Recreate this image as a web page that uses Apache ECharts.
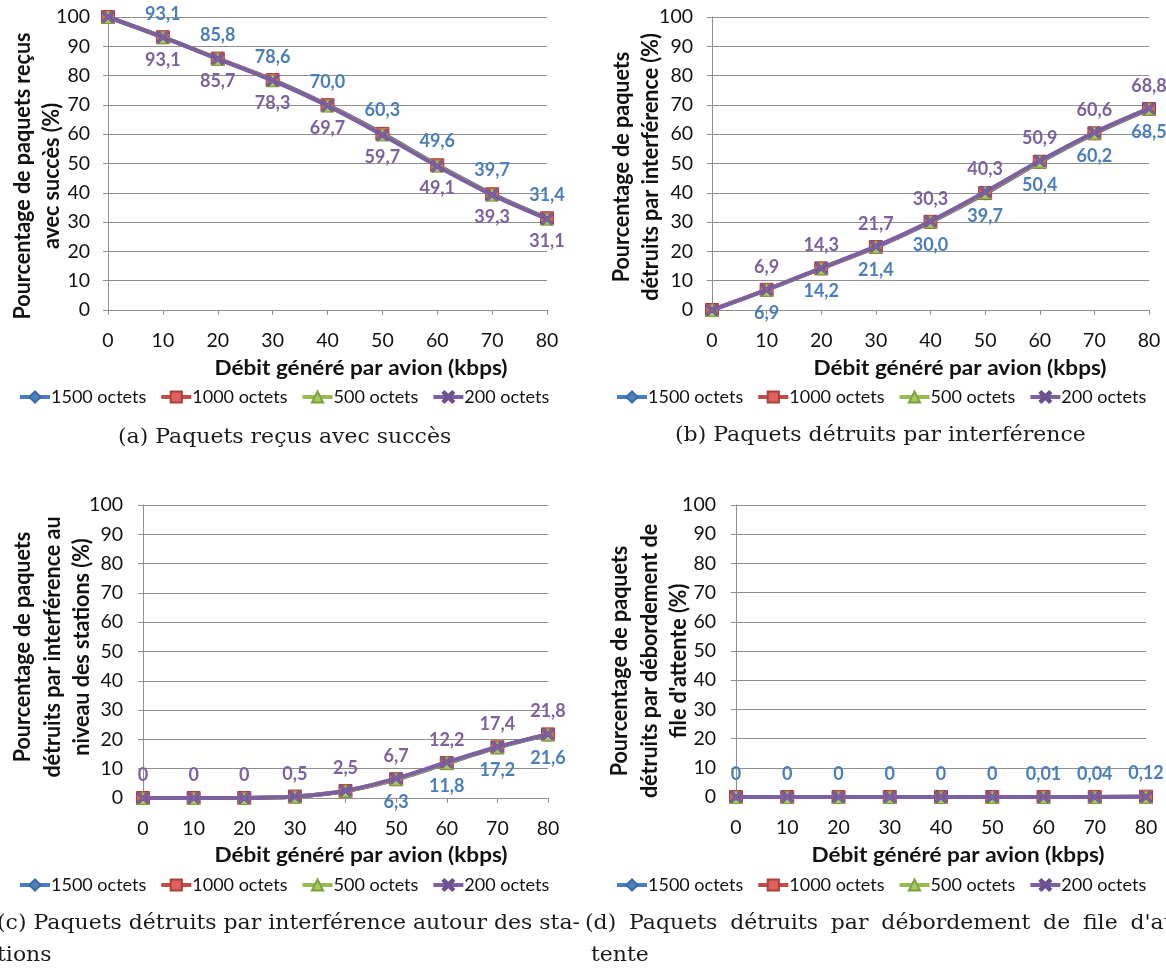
<!DOCTYPE html>
<html>
<head>
<meta charset="utf-8">
<script src="https://cdn.jsdelivr.net/npm/echarts@6/dist/echarts.min.js"></script>
<style>
html,body{margin:0;padding:0;background:#fff;}
#chart{width:1166px;height:969px;}
</style>
</head>
<body>
<div id="chart"></div>
<script>
// ---------- DATA ----------
const xValues = [0, 10, 20, 30, 40, 50, 60, 70, 80];
const seriesNames = ['1500 octets', '1000 octets', '500 octets', '200 octets'];

// (a) Paquets reçus avec succès (%)
const recus1500 = [100, 93.1, 85.8, 78.6, 70.0, 60.3, 49.6, 39.7, 31.4];
const recus1000 = [100, 93.1, 85.8, 78.5, 69.9, 60.1, 49.4, 39.5, 31.3];
const recus500  = [100, 93.1, 85.7, 78.4, 69.8, 59.9, 49.3, 39.4, 31.2];
const recus200  = [100, 93.1, 85.7, 78.3, 69.7, 59.7, 49.1, 39.3, 31.1];

// (b) Paquets détruits par interférence (%)
const interf1500 = [0, 6.9, 14.2, 21.4, 30.0, 39.7, 50.4, 60.2, 68.5];
const interf1000 = [0, 6.9, 14.2, 21.5, 30.1, 39.9, 50.6, 60.3, 68.6];
const interf500  = [0, 6.9, 14.3, 21.6, 30.2, 40.1, 50.7, 60.5, 68.7];
const interf200  = [0, 6.9, 14.3, 21.7, 30.3, 40.3, 50.9, 60.6, 68.8];

// (c) Paquets détruits par interférence au niveau des stations (%)
const stations1500 = [0, 0, 0, 0.5, 2.4, 6.3, 11.8, 17.2, 21.6];
const stations1000 = [0, 0, 0, 0.5, 2.4, 6.4, 11.9, 17.3, 21.7];
const stations500  = [0, 0, 0, 0.5, 2.5, 6.5, 12.0, 17.3, 21.7];
const stations200  = [0, 0, 0, 0.5, 2.5, 6.7, 12.2, 17.4, 21.8];

// (d) Paquets détruits par débordement de file d'attente (%)
const debord1500 = [0, 0, 0, 0, 0, 0, 0.01, 0.04, 0.12];
const debord1000 = [0, 0, 0, 0, 0, 0, 0.01, 0.03, 0.10];
const debord500  = [0, 0, 0, 0, 0, 0, 0.01, 0.02, 0.08];
const debord200  = [0, 0, 0, 0, 0, 0, 0, 0.01, 0.05];

const yTickMin = 0, yTickMax = 100, yTickStep = 10;
const xTickMin = 0, xTickMax = 80, xTickStep = 10;

// ---------- STYLE / LAYOUT ----------
const SANS = 'Lato, "Open Sans", sans-serif';
const SERIF_FAMILY = '"DejaVu Serif", "Liberation Serif", serif';
const colors = ['#4A7EBB', '#BE4B48', '#98B954', '#7D60A0'];
const fills  = ['#4F81BD', '#E0605C', '#A6C85E', '#8064A2'];
const borders = ['#3B6AA8', '#A8403D', '#7FA040', '#6A4E90'];
const xSym = 'path://M0,1.5 L1.5,0 L5,3.5 L8.5,0 L10,1.5 L6.5,5 L10,8.5 L8.5,10 L5,6.5 L1.5,10 L0,8.5 L3.5,5 Z';
const symbols = ['diamond', 'rect', 'triangle', xSym];
const symSizes = [13, 13, 13, 12];
const gridCol = '#8E8E8E';
const STRETCH = 1.1;   // the reference picture is slightly widened

const panels = [
  { data: [recus1500, recus1000, recus500, recus200], grid: {left: 108, top: 17, width: 439, height: 293}, labelMargin: 18,
    yTitle: ['Pourcentage de paquets reçus', 'avec succès (%)'], yTitlePos: [37, 176],
    xTitlePos: [361, 368], legendPos: [18, 388],
    labels: { 0: {pos: 'top', from: 1}, 3: {pos: 'bottom', from: 1} }, decimals: 1 },
  { data: [interf1500, interf1000, interf500, interf200], grid: {left: 712, top: 17, width: 437, height: 293}, labelMargin: 19,
    yTitle: ['Pourcentage de paquets', 'détruits par interférence (%)'], yTitlePos: [636, 167],
    xTitlePos: [960, 368], legendPos: [615, 388],
    labels: { 0: {pos: 'bottom', from: 1}, 3: {pos: 'top', from: 1} }, decimals: 1 },
  { data: [stations1500, stations1000, stations500, stations200], grid: {left: 143, top: 505, width: 405, height: 293}, labelMargin: 20,
    yTitle: ['Pourcentage de paquets', 'détruits par interférence au', 'niveau des stations (%)'], yTitlePos: [52, 647],
    xTitlePos: [361, 855], legendPos: [18, 876],
    labels: { 0: {pos: 'bottom', from: 5}, 3: {pos: 'top', from: 0} }, decimals: null },
  { data: [debord1500, debord1000, debord500, debord200], grid: {left: 736, top: 505, width: 410, height: 292}, labelMargin: 20,
    yTitle: ['Pourcentage de paquets', 'détruits par débordement de', "file d'attente (%)"], yTitlePos: [649, 661],
    xTitlePos: [958, 855], legendPos: [615, 876],
    labels: { 0: {pos: 'top', from: 0} }, decimals: null }
];

function fmt(v, dec) {
  const s = dec == null ? String(v) : v.toFixed(dec);
  return s.replace('.', ',');
}

const grids = [], xAxes = [], yAxes = [], series = [], legends = [], graphics = [];

panels.forEach((p, pi) => {
  grids.push(Object.assign({containLabel: false}, p.grid));
  xAxes.push({
    type: 'value', gridIndex: pi, min: xTickMin, max: xTickMax, interval: xTickStep,
    axisLine: {show: true, lineStyle: {color: gridCol, width: 1}},
    axisTick: {show: true, length: 5, lineStyle: {color: gridCol}},
    axisLabel: {color: '#111', fontFamily: SANS, fontSize: 19.5, margin: 21},
    splitLine: {show: false}
  });
  yAxes.push({
    type: 'value', gridIndex: pi, min: yTickMin, max: yTickMax, interval: yTickStep,
    axisLine: {show: true, lineStyle: {color: gridCol, width: 1}},
    axisTick: {show: true, length: 5, lineStyle: {color: gridCol}},
    axisLabel: {color: '#111', fontFamily: SANS, fontSize: 19.5, margin: p.labelMargin},
    splitLine: {show: true, lineStyle: {color: gridCol, width: 1}}
  });
  p.data.forEach((arr, si) => {
    const lab = p.labels[si];
    series.push({
      type: 'line', name: seriesNames[si], xAxisIndex: pi, yAxisIndex: pi,
      smooth: 0.3,
      symbol: symbols[si], symbolSize: symSizes[si], showAllSymbol: true,
      lineStyle: {color: colors[si], width: 4},
      itemStyle: {color: fills[si], borderColor: borders[si], borderWidth: 1},
      z: 2 + si,
      data: xValues.map((x, i) => {
        const item = {value: [x, arr[i]]};
        if (lab) item.label = {show: i >= lab.from};
        return item;
      }),
      label: lab ? {
        show: true, position: lab.pos, distance: 7,
        color: colors[si], fontFamily: SANS, fontWeight: 'bold', fontSize: 18,
        formatter: (prm) => fmt(prm.value[1], p.decimals)
      } : {show: false},
      labelLayout: {hideOverlap: false}
    });
  });
  legends.push({
    left: p.legendPos[0], top: p.legendPos[1], orient: 'horizontal',
    width: 560, padding: 0,
    itemWidth: 30, itemHeight: 14, itemGap: 13,
    lineStyle: {width: 4},
    textStyle: {fontFamily: SANS, fontSize: 18, color: '#111', padding: [0, 0, 0, -4]},
    data: seriesNames, selectedMode: false
  });
  graphics.push({
    type: 'text', x: p.xTitlePos[0], y: p.xTitlePos[1], scaleX: STRETCH,
    style: {text: 'Débit généré par avion (kbps)', fontFamily: SANS, fontWeight: 'bold', fontSize: 20.5,
            fill: '#111', align: 'center', verticalAlign: 'middle'}
  });
  graphics.push({
    type: 'text', x: p.yTitlePos[0], y: p.yTitlePos[1], rotation: Math.PI / 2, scaleY: STRETCH,
    style: {text: p.yTitle.join('\n'), fontFamily: SANS, fontWeight: 'bold', fontSize: 21.5, lineHeight: 26.5,
            fill: '#111', align: 'center', verticalAlign: 'middle'}
  });
});

// captions (sub-figure titles)
const CAP_SIZE = 20;
function textWidth(str) {
  const t = new echarts.graphic.Text({style: {text: str, fontFamily: SERIF_FAMILY, fontSize: CAP_SIZE}});
  return t.getBoundingRect().width * STRETCH;
}
function addCaption(text, x, y, justifyTo) {
  const st = {fontFamily: SERIF_FAMILY, fontSize: CAP_SIZE, fill: '#1a1a1a', align: 'left', verticalAlign: 'middle'};
  if (!justifyTo) {
    graphics.push({type: 'text', x: x, y: y, scaleX: STRETCH, style: Object.assign({text: text}, st)});
    return;
  }
  const words = text.split(' ');
  const widths = words.map(textWidth);
  const total = widths.reduce((a, b) => a + b, 0);
  const gap = (justifyTo - x - total) / (words.length - 1);
  let cx = x;
  words.forEach((w, i) => {
    graphics.push({type: 'text', x: cx, y: y, scaleX: STRETCH, style: Object.assign({text: w}, st)});
    cx += widths[i] + gap;
  });
}
addCaption('(a) Paquets reçus avec succès', 118, 438);
addCaption('(b) Paquets détruits par interférence', 675, 436);
addCaption('(c) Paquets détruits par interférence autour des sta-', -3, 924, 580);
addCaption('tions', -3, 956);
addCaption("(d) Paquets détruits par débordement de file d'at-", 585, 924, 1180);
addCaption('tente', 591, 956);

const chart = echarts.init(document.getElementById('chart'), null, {renderer: 'canvas'});
chart.setOption({
  animation: false,
  backgroundColor: '#fff',
  grid: grids, xAxis: xAxes, yAxis: yAxes, series: series, legend: legends,
  graphic: graphics
});
</script>
</body>
</html>
